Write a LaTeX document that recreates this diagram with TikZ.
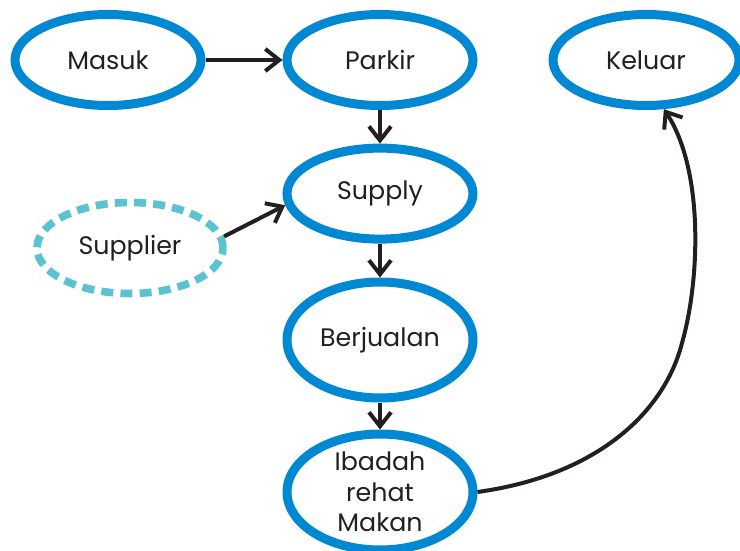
\documentclass[tikz,border=0pt]{standalone}
\usepackage{fontspec}
\setmainfont{Poppins}
\usetikzlibrary{arrows.meta,shapes.geometric}
\definecolor{stateBlue}{RGB}{0,137,210}
\definecolor{supCyan}{RGB}{91,194,207}
\definecolor{ink}{RGB}{35,31,32}

\begin{document}
\begin{tikzpicture}
        [state/.style={ellipse,draw=stateBlue,line width=0.225cm,minimum width=4.65cm,minimum height=2.275cm,inner sep=0pt,text=ink,font=\fontsize{18}{21.6}\selectfont},
        stateTall/.style={state,minimum height=2.9cm},
        stateDashed/.style={state,draw=supCyan,line width=0.19cm,dash pattern=on 0.3cm off 0.18cm},
        link/.style={line width=0.1cm,draw=ink,->},
        >={Straight Barb[length=3.5mm,width=5.5mm]}]
        \useasboundingbox (0,0) rectangle (18.5,-13.775);
        \node[state] (masuk) at (2.7,-1.5) {Masuk};
        \node[state] (parkir) at (9.5,-1.5) {Parkir};
        \node[state] (keluar) at (16.15,-1.5) {Keluar};
        \node[state] (supply) at (9.5,-4.84) {Supply};
        \node[stateDashed] (supplier) at (3.25,-6.2) {Supplier};
        \node[stateTall] (berjualan) at (9.5,-8.5) {Berjualan};
        \node[stateTall, inner ysep=-4pt, align=center] (ibadah) at (9.5,-12.3) {Ibadah\\rehat\\Makan};
        \coordinate (bend) at (17.05,-8.575);
        
        \draw[link] (masuk) -- (parkir);
        \draw[link] (parkir) -- (supply);
        \draw[link] (supplier.7) -- (supply.187);
        \draw[link] (supply) -- (berjualan);
        \draw[link] (berjualan) -- (ibadah);
        % jalan keluar
        \draw[link] (ibadah.east) .. controls (15,-11.875) and (16.625,-10.25) .. (bend)
            .. controls (17.5,-7) and (17.6,-4.25) .. (keluar.-70);
    
    \end{tikzpicture}
\end{document}
